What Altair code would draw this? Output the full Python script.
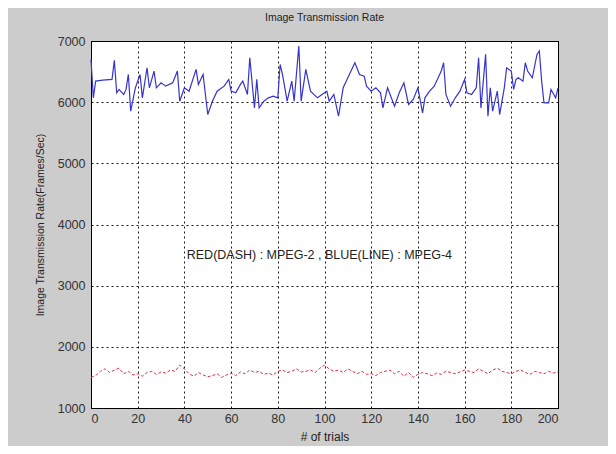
import altair as alt
import pandas as pd

# Blue (MPEG-4, solid line): trial positions and values
blue_trial = [0, 1, 2, 5, 9, 10, 11, 12, 14, 15, 16, 17, 19, 21, 22, 24, 25, 27, 28, 30,
              32, 35, 37, 38, 40, 42, 45, 46, 48, 50, 52, 54, 57, 59, 60, 62, 64, 65, 67, 68,
              70, 71, 72, 74, 76, 78, 80, 81, 82, 84, 86, 87, 89, 90, 92, 94, 97, 100, 101, 102,
              104, 106, 108, 110, 113, 115, 117, 118, 120, 122, 124, 125, 127, 130, 132, 134, 136, 138, 140, 142,
              143, 145, 147, 150, 151, 152, 154, 156, 158, 160, 161, 163, 165, 166, 167, 169, 170, 171, 172, 174,
              175, 177, 178, 180, 181, 182, 183, 185, 186, 187, 189, 191, 192, 193, 194, 196, 197, 199, 200]
blue_value = [6700, 6071, 6344, 6360, 6372, 6683, 6153, 6208, 6126, 6208, 6453, 5852, 6235, 6453, 6071, 6563, 6235, 6508, 6235, 6317,
              6262, 6317, 6508, 6016, 6235, 6180, 6536, 6290, 6453, 5798, 6016, 6180, 6262, 6372, 6180, 6153, 6290, 6344, 6126, 6727,
              5907, 6372, 5907, 6016, 6071, 6098, 6071, 6617, 6453, 6016, 6344, 6016, 6918, 6016, 6536, 6180, 6071, 6153, 6180, 6016,
              6126, 5770, 6235, 6399, 6645, 6453, 6426, 6262, 6180, 6235, 6153, 5907, 6235, 5934, 6153, 6317, 5962, 6044, 6235, 5825,
              6071, 6180, 6262, 6508, 6645, 6126, 5934, 6071, 6180, 6372, 6153, 6126, 6235, 6727, 5907, 6781, 5770, 6235, 5852, 6180,
              5798, 6235, 6563, 6508, 6208, 6372, 6399, 6344, 6645, 6508, 6399, 6781, 6836, 6344, 5989, 5989, 6208, 6071, 6235]

# Red (MPEG-2, dashed line): every second trial
red_trial = list(range(0, 201, 2))
red_value = [1500, 1530, 1600, 1640, 1580, 1620, 1650, 1560, 1600, 1540, 1560, 1520, 1580, 1600, 1550, 1590, 1570, 1620, 1600, 1700,
             1640, 1560, 1520, 1580, 1540, 1510, 1530, 1560, 1500, 1540, 1570, 1530, 1590, 1560, 1620, 1580, 1600, 1550, 1570, 1540,
             1600, 1620, 1580, 1600, 1640, 1590, 1600, 1620, 1580, 1650, 1700, 1640, 1600, 1620, 1580, 1640, 1600, 1560, 1600, 1550,
             1560, 1530, 1580, 1600, 1620, 1560, 1600, 1520, 1580, 1500, 1550, 1580, 1560, 1530, 1570, 1550, 1600, 1580, 1560, 1590,
             1620, 1600, 1580, 1640, 1600, 1560, 1620, 1650, 1600, 1580, 1560, 1600, 1620, 1580, 1550, 1600, 1580, 1560, 1600, 1570, 1590]

x_ticks = list(range(0, 201, 20))
y_ticks = list(range(1000, 7001, 1000))
note_text = ["RED(DASH) : MPEG-2 , BLUE(LINE) : MPEG-4"]
note_x = [41]
note_y = [3500]

blue_df = pd.DataFrame({"trial": blue_trial, "rate": blue_value})
red_df = pd.DataFrame({"trial": red_trial, "rate": red_value})
note_df = pd.DataFrame({"trial": note_x, "rate": note_y, "label": note_text})

FONT = "Liberation Sans"

x_enc = alt.X("trial:Q", scale=alt.Scale(domain=[0, 200], nice=False),
              axis=alt.Axis(values=x_ticks, title="# of trials", format="d",
                            grid=True, gridDash=[2, 3], gridColor="#000000", gridOpacity=0.9,
                            tickSize=0, labelPadding=4, titlePadding=7,
                            domainColor="#000000", labelColor="#333333", titleColor="#222222",
                            labelFont=FONT, titleFont=FONT, labelFontSize=12.5, titleFontSize=12,
                            titleFontWeight="normal"))
y_enc = alt.Y("rate:Q", scale=alt.Scale(domain=[1000, 7000], nice=False),
              axis=alt.Axis(values=y_ticks, title="Image Transmission Rate(Frames/Sec)", format="d",
                            grid=True, gridDash=[2, 3], gridColor="#000000", gridOpacity=0.9,
                            tickSize=0, labelPadding=6, titlePadding=12,
                            domainColor="#000000", labelColor="#333333", titleColor="#222222",
                            labelFont=FONT, titleFont=FONT, labelFontSize=12.5, titleFontSize=10.5,
                            titleFontWeight="normal"))

blue = alt.Chart(blue_df).mark_line(color="#3535cc", strokeWidth=1.2).encode(x=x_enc, y=y_enc)
red = alt.Chart(red_df).mark_line(color="#e0303f", strokeWidth=1, strokeDash=[3, 2]).encode(
    x="trial:Q", y="rate:Q")
note = alt.Chart(note_df).mark_text(align="left", baseline="middle", font=FONT, fontSize=12.5,
                                    color="#222222").encode(x="trial:Q", y="rate:Q", text="label:N")

chart = alt.layer(blue, red, note).properties(
    width=467, height=367,
    background="#cccccc",
    autosize=alt.AutoSizeParams(type="none"),
    padding={"left": 83, "top": 33, "right": 50, "bottom": 38},
    title=alt.Title("Image Transmission Rate", font=FONT, fontSize=10.5, fontWeight="normal",
                    color="#222222", offset=12),
).configure_view(fill="#ffffff", stroke="#000000", strokeWidth=1)

chart.save("out.html", embed_options={"renderer": "svg", "actions": False})
